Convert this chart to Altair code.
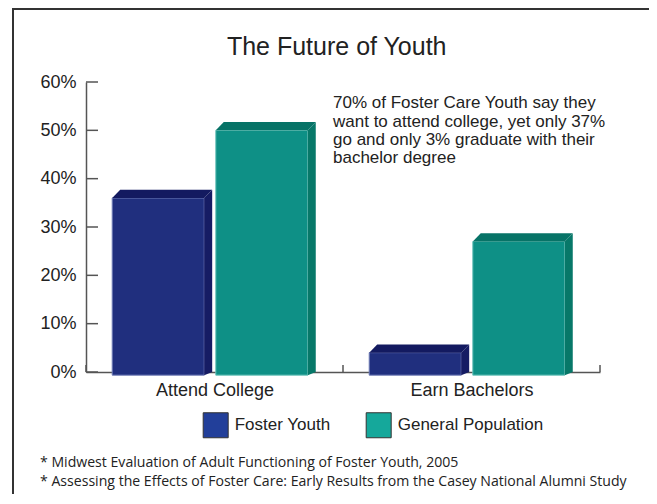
import json
import altair as alt
import pandas as pd

# ---------------- data ----------------
categories = ["Attend College", "Earn Bachelors"]
series = ["Foster Youth", "General Population"]
foster_youth = [36, 4]
general_population = [50, 27]
y_ticks = [0, 10, 20, 30, 40, 50, 60]
title_text = "The Future of Youth"
note_lines = [
    "70% of Foster Care Youth say they",
    "want to attend college, yet only 37%",
    "go and only 3% graduate with their",
    "bachelor degree",
]
footnotes = [
    "* Midwest Evaluation of Adult Functioning of Foster Youth, 2005",
    "* Assessing the Effects of Foster Care: Early Results from the Casey National Alumni Study",
]

# ---------------- style ----------------
FONT = "Liberation Sans"
NOTE_FONT = "Open Sans"
TEXT = "#222222"
AXIS = "#555555"
front_colors = {"Foster Youth": "#202f7e", "General Population": "#0e9086"}
side_colors = {"Foster Youth": "#161c64", "General Population": "#077869"}
top_colors = {"Foster Youth": "#131a60", "General Population": "#077367"}
edge_colors = {"Foster Youth": "#6f7cb6", "General Population": "#6cc4bb"}
legend_colors = ["#223f9a", "#15a89b"]

W, H = 514, 290
bar_start = {"Foster Youth": -0.398, "General Population": 0.005}  # from band centre
bar_w = 0.358
depth_x = 0.031
depth_y = 1.7
front_drop = -0.65

values = {"Foster Youth": foster_youth, "General Population": general_population}
front_rows, face_rows = [], []
for i, cat in enumerate(categories):
    c = i + 0.5
    for s in series:
        v = values[s][i]
        L = c + bar_start[s]
        R = L + bar_w
        front_rows.append(dict(category=cat, series=s, x=L, x2=R, y=v, y2=front_drop,
                               fill=front_colors[s], edge=edge_colors[s]))
        sid = f"{cat}|{s}|side"
        face_rows += [
            dict(face=sid, x=R, y=v, y2=front_drop, fill=side_colors[s]),
            dict(face=sid, x=R + depth_x, y=v + depth_y, y2=0, fill=side_colors[s]),
        ]
        tid = f"{cat}|{s}|top"
        face_rows += [
            dict(face=tid, x=L, y=v, y2=v, fill=top_colors[s]),
            dict(face=tid, x=L + depth_x, y=v + depth_y, y2=v, fill=top_colors[s]),
            dict(face=tid, x=R, y=v + depth_y, y2=v, fill=top_colors[s]),
            dict(face=tid, x=R + depth_x, y=v + depth_y, y2=v + depth_y, fill=top_colors[s]),
        ]
front_df = pd.DataFrame(front_rows)
face_df = pd.DataFrame(face_rows)

xs = alt.Scale(domain=[0, len(categories)], nice=False, zero=False)
ys = alt.Scale(domain=[y_ticks[0], y_ticks[-1]], nice=False, zero=False)

x_axis = alt.Axis(values=[i + 0.5 for i in range(len(categories))],
                  labelExpr=f"{json.dumps(categories)}[floor(datum.value)]",
                  ticks=False, grid=False, title=None, domainColor=AXIS, domainWidth=1.5,
                  labelFont=FONT, labelFontSize=18, labelColor=TEXT, labelPadding=9)
y_axis = alt.Axis(values=y_ticks, labelExpr="datum.value + '%'", ticks=False, grid=False,
                  title=None, domainColor=AXIS, domainWidth=1.5,
                  labelFont=FONT, labelFontSize=18, labelColor=TEXT, labelPadding=10)

front = alt.Chart(front_df).mark_rect(strokeWidth=1).encode(
    x=alt.X("x:Q", scale=xs, axis=x_axis), x2="x2:Q",
    y=alt.Y("y:Q", scale=ys, axis=y_axis), y2="y2:Q",
    fill=alt.Fill("fill:N", scale=None),
    stroke=alt.Stroke("edge:N", scale=None),
)

faces = alt.Chart(face_df).mark_area(orient="vertical", interpolate="linear").encode(
    x=alt.X("x:Q", scale=xs, axis=x_axis),
    y=alt.Y("y:Q", scale=ys, axis=y_axis), y2="y2:Q",
    detail="face:N",
    fill=alt.Fill("fill:N", scale=None),
)

legend_layer = alt.Chart(front_df).mark_point(opacity=0, filled=True).encode(
    x=alt.X("x:Q", scale=xs, axis=x_axis),
    y=alt.Y("y:Q", scale=ys, axis=y_axis),
    color=alt.Color("series:N", scale=alt.Scale(domain=series, range=legend_colors),
                    legend=alt.Legend(orient="none", legendX=116.7, legendY=330,
                                      direction="horizontal", title=None, padding=0,
                                      symbolType="square", symbolSize=625,
                                      symbolStrokeColor="#333333", symbolStrokeWidth=1,
                                      symbolOpacity=1, labelFont=FONT, labelFontSize=17,
                                      labelColor=TEXT, labelOffset=6, columnPadding=33)),
)

tick_df = pd.DataFrame({"v": y_ticks})
y_ticks_layer = alt.Chart(tick_df).mark_rule(color=AXIS, strokeWidth=1.5).encode(
    y=alt.Y("v:Q", scale=ys), x=alt.value(0), x2=alt.value(12))
xt_df = pd.DataFrame({"v": list(range(len(categories) + 1))})
x_ticks_layer = alt.Chart(xt_df).mark_rule(color=AXIS, strokeWidth=1.5).encode(
    x=alt.X("v:Q", scale=xs), y=alt.value(H), y2=alt.value(H - 7))

title_layer = alt.Chart(pd.DataFrame({"t": [title_text]})).mark_text(
    font=FONT, fontSize=25, color=TEXT, align="center", baseline="alphabetic"
).encode(x=alt.value(250.7), y=alt.value(-27), text="t:N")

note_layer = alt.Chart(pd.DataFrame({"t": ["\n".join(note_lines)]})).mark_text(
    font=FONT, fontSize=17, color=TEXT, align="left", baseline="alphabetic",
    lineBreak="\n", lineHeight=18.3
).encode(x=alt.value(247), y=alt.value(26.3), text="t:N")

foot_layer = alt.Chart(pd.DataFrame({"t": ["\n".join(footnotes)]})).mark_text(
    font=NOTE_FONT, fontSize=14.1, color=TEXT, align="left", baseline="alphabetic",
    lineBreak="\n", lineHeight=19
).encode(x=alt.value(-46), y=alt.value(385), text="t:N")

one = pd.DataFrame({"a": [0]})
border_left = alt.Chart(one).mark_rule(color="#333333", strokeWidth=2).encode(
    x=alt.value(-73), y=alt.value(-74), y2=alt.value(H + 122))
border_top = alt.Chart(one).mark_rule(color="#333333", strokeWidth=2).encode(
    x=alt.value(-74), x2=alt.value(W + 49), y=alt.value(-73))

chart = alt.layer(
    border_left, border_top, front, faces, y_ticks_layer, x_ticks_layer, legend_layer,
    title_layer, note_layer, foot_layer
).properties(
    width=W, height=H,
    autosize=alt.AutoSizeParams(type="none"),
    padding={"left": 78, "top": 74, "right": 49, "bottom": 122},
    background="white",
).configure_view(stroke=None)

chart.save("out.html", embed_options={"renderer": "svg", "actions": False})
